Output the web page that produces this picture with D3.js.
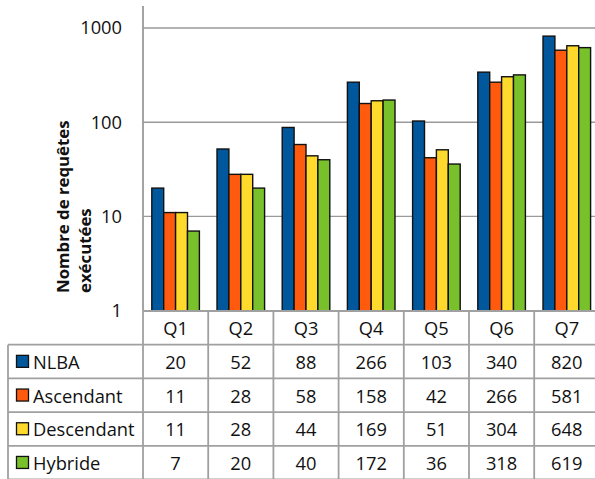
<!DOCTYPE html>
<html><head><meta charset="utf-8">
<script src="https://cdn.jsdelivr.net/npm/d3@7"></script>
<style>
html,body{margin:0;padding:0;background:#fff;overflow:hidden;}
svg{display:block;font-family:"Open Sans",sans-serif;}
</style></head>
<body>
<svg id="c" width="595" height="479"></svg>
<script>
const categories = ["Q1","Q2","Q3","Q4","Q5","Q6","Q7"];
const seriesNames = ["NLBA","Ascendant","Descendant","Hybride"];
const nlba = [20,52,88,266,103,340,820];
const ascendant = [11,28,58,158,42,266,581];
const descendant = [11,28,44,169,51,304,648];
const hybride = [7,20,40,172,36,318,619];
const seriesValues = [nlba, ascendant, descendant, hybride];
const colors = ["#01579B","#FF5A0E","#FFDA2C","#79C12B"];
const yTicks = [1,10,100,1000];
const yTitle = ["Nombre de requêtes","exécutées"];

const svg = d3.select("#c");
const plotLeft = 143, step = 65.2;
const plotRight = plotLeft + step*categories.length;
const yBottom = 310.7, yTop = 28;
const gridColor = "#9a9a9a";

const x = d3.scaleBand().domain(categories).range([plotLeft, plotRight]).paddingInner(0.27).paddingOuter(0.135);
const xs = d3.scaleBand().domain(seriesNames).range([0, x.bandwidth()]);
const xCol = d3.scaleBand().domain(categories).range([plotLeft, plotRight]);
const y = d3.scaleLog().domain([1,1000]).range([yBottom, yTop]);

// gridlines
svg.append("g").selectAll("line").data(yTicks.filter(d=>d>1)).join("line")
  .attr("x1", plotLeft).attr("x2", plotRight)
  .attr("y1", d=>y(d)).attr("y2", d=>y(d))
  .attr("stroke", gridColor).attr("stroke-width", 1.3);

// y axis
const yAxis = d3.axisLeft(y).tickValues(yTicks).tickFormat(d3.format("d")).tickSize(0).tickPadding(21);
const ga = svg.append("g").attr("transform", `translate(${plotLeft},0)`).call(yAxis);
ga.select(".domain").remove();
ga.selectAll("text").attr("font-size", 18.3).attr("fill", "#111").attr("font-family", "Open Sans");
svg.append("line").attr("x1", plotLeft).attr("x2", plotLeft).attr("y1", 6).attr("y2", yBottom)
  .attr("stroke", gridColor).attr("stroke-width", 1.8);

// y title
const tg = svg.append("g").attr("transform", "translate(0,293) rotate(-90)");
tg.selectAll("text").data(yTitle).join("text")
  .attr("x", 0).attr("y", (d,i)=>62 + i*22)
  .attr("dominant-baseline","central")
  .attr("font-size", 16.8).attr("font-weight", "bold").attr("fill", "#111")
  .text(d=>d);

// bars
const groups = svg.append("g").selectAll("g").data(seriesNames).join("g")
  .attr("fill", (d,i)=>colors[i]);
groups.selectAll("rect").data((s,si)=>categories.map((c,ci)=>({s, c, v: seriesValues[si][ci]}))).join("rect")
  .attr("x", d=>x(d.c)+xs(d.s))
  .attr("width", xs.bandwidth())
  .attr("y", d=>y(d.v))
  .attr("height", d=>yBottom - y(d.v))
  .attr("stroke", "#111").attr("stroke-width", 1.4);

// table
const headTop = 311, rowH = 33.7;
const rowsTop = headTop + rowH;
const tableColor = "#a0a0a0";
const tbl = svg.append("g");
tbl.append("line").attr("x1", plotLeft).attr("x2", plotRight).attr("y1", headTop).attr("y2", headTop)
  .attr("stroke", tableColor).attr("stroke-width", 1.8);
for (let i=0;i<=seriesNames.length;i++){
  tbl.append("line").attr("x1", 8).attr("x2", plotRight)
    .attr("y1", rowsTop + i*rowH).attr("y2", rowsTop + i*rowH)
    .attr("stroke", tableColor).attr("stroke-width", 1.8);
}
categories.forEach(c=>{
  tbl.append("line").attr("x1", xCol(c)).attr("x2", xCol(c)).attr("y1", headTop).attr("y2", rowsTop + 4*rowH)
    .attr("stroke", tableColor).attr("stroke-width", 1.8);
});
tbl.append("line").attr("x1", plotRight).attr("x2", plotRight).attr("y1", headTop).attr("y2", rowsTop + 4*rowH)
  .attr("stroke", tableColor).attr("stroke-width", 1.8);
tbl.append("line").attr("x1", 8).attr("x2", 8).attr("y1", rowsTop).attr("y2", rowsTop + 4*rowH)
  .attr("stroke", tableColor).attr("stroke-width", 1.8);

tbl.selectAll("text.h").data(categories).join("text").attr("class","h")
  .attr("x", c=>xCol(c)+xCol.bandwidth()/2).attr("y", headTop + rowH/2)
  .attr("text-anchor","middle").attr("dominant-baseline","central")
  .attr("font-size", 18.3).attr("fill","#111").text(c=>c);

seriesNames.forEach((s,si)=>{
  const cy = rowsTop + si*rowH + rowH/2;
  tbl.append("rect").attr("x", 16.5).attr("y", cy-6.2).attr("width", 12).attr("height", 12)
    .attr("fill", colors[si]).attr("stroke","#111").attr("stroke-width",1.3);
  tbl.append("text").attr("x", 33).attr("y", cy).attr("dominant-baseline","central")
    .attr("font-size", 18.3).attr("fill","#111").text(s);
  tbl.selectAll(null).data(categories).join("text")
    .attr("x", c=>xCol(c)+xCol.bandwidth()/2).attr("y", cy)
    .attr("text-anchor","middle").attr("dominant-baseline","central")
    .attr("font-size", 18.3).attr("fill","#111")
    .text((c,ci)=>seriesValues[si][ci]);
});
</script>
</body></html>
